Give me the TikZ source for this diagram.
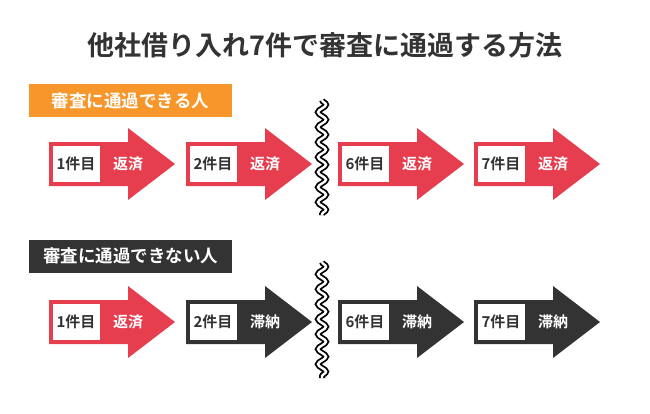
\documentclass[tikz,border=0pt]{standalone}
\usepackage{fontspec}
\setmainfont{Noto Sans CJK JP}[BoldFont={Noto Sans CJK JP Bold}]
\usetikzlibrary{decorations.pathmorphing}
\definecolor{payred}{HTML}{E63E4E}
\definecolor{paydark}{HTML}{333333}
\definecolor{payorange}{HTML}{F7962A}
\newcommand{\payarrow}[4]{% x, y, colour, text
  \fill[#3] (#1,#2-22) -- (#1+79,#2-22) -- (#1+79,#2-36) -- (#1+126,#2)
    -- (#1+79,#2+36) -- (#1+79,#2+22) -- (#1,#2+22) -- cycle;
  \node[countbox] at (#1+27,#2) {#4};
}
\begin{document}
\begin{tikzpicture}[x=1pt, y=-1pt]
    \tikzstyle{countbox}=[fill=white, minimum width=47pt, minimum height=36pt, inner sep=0pt, font=\bfseries\fontsize{15}{15}\selectfont, text=paydark]
    \tikzstyle{statetext}=[text=white, font=\bfseries\fontsize{15}{15}\selectfont]
    \tikzstyle{rowlabel}=[minimum width=203pt, minimum height=33pt, inner sep=0pt, text=white, font=\bfseries\fontsize{17.5}{17.5}\selectfont]
    \tikzstyle{wave}=[decorate, decoration={snake, amplitude=4pt, segment length=15pt}]

    \useasboundingbox (0,0) rectangle (650,413);

    \node[font=\bfseries\fontsize{27}{27}\selectfont, text=paydark] (title) at (325,45) {他社借り入れ7件で審査に通過する方法};

    \node[rowlabel, fill=payorange] (pass) at (130.5,100.5) {審査に通過できる人};
    \node[rowlabel, fill=paydark] (fail) at (130.5,256) {審査に通過できない人};

    % upper row
    \payarrow{49}{164}{payred}{1件目}
    \payarrow{186}{164}{payred}{2件目}
    \payarrow{338}{164}{payred}{6件目}
    \payarrow{474}{164}{payred}{7件目}
    \foreach \x in {49,186,338,474}
        \node[statetext] at (\x+79,164) {返済};

    % lower row
    \payarrow{49}{322}{payred}{1件目}
    \node[statetext] at (128,322) {返済};
    \foreach \x in {186,338,474} {
        \payarrow{\x}{322}{paydark}{}
        \node[statetext] at (\x+79,322) {滞納};
    }
    \node[countbox] at (213,322) {2件目};
    \node[countbox] at (365,322) {6件目};
    \node[countbox] at (501,322) {7件目};

    % break marks
    \foreach \ya/\yb in {100/215,262/378} {
        \draw[wave, line width=6pt, black] (322,\ya) -- (322,\yb);
        \draw[wave, line width=2.4pt, white] (322,\ya) -- (322,\yb);
    }
\end{tikzpicture}
\end{document}
